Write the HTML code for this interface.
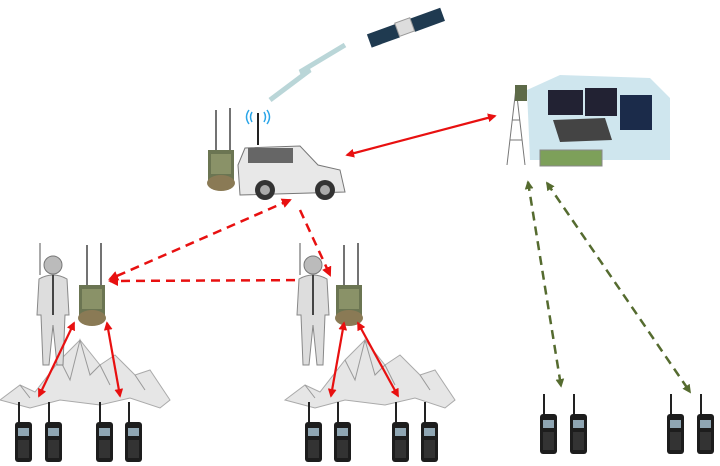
<!DOCTYPE html>
<html><head><style>body{margin:0;background:#fff}svg{display:block}</style></head><body>
<svg width="720" height="466" viewBox="0 0 720 466" xmlns="http://www.w3.org/2000/svg">
<defs>
<marker id="r" viewBox="0 0 10 10" refX="8" refY="5" markerWidth="4" markerHeight="4" orient="auto-start-reverse"><path d="M0,0L10,5L0,10z" fill="#e81010"/></marker>
<marker id="g" viewBox="0 0 10 10" refX="8" refY="5" markerWidth="3.5" markerHeight="3.5" orient="auto-start-reverse"><path d="M0,0L10,5L0,10z" fill="#556b2f"/></marker>
<g id="radio"><rect x="3" y="0" width="2" height="22" fill="#222"/><rect x="0" y="20" width="17" height="40" rx="3" fill="#1d1d1d"/><rect x="3" y="26" width="11" height="8" fill="#8fa6b3"/><rect x="3" y="38" width="11" height="18" fill="#333"/></g>
<g id="pack"><rect x="0" y="0" width="26" height="30" fill="#6b7552"/><rect x="3" y="4" width="20" height="20" fill="#8a9268"/><ellipse cx="13" cy="33" rx="14" ry="8" fill="#8a7a55"/><line x1="8" y1="0" x2="8" y2="-40" stroke="#444" stroke-width="1.5"/><line x1="22" y1="0" x2="22" y2="-42" stroke="#444" stroke-width="1.5"/></g>
<g id="sold"><circle cx="18" cy="10" r="9" fill="#bbb" stroke="#777"/><path d="M4,24 Q18,16 32,24 L34,60 L30,60 L28,110 L22,110 L18,70 L14,110 L8,110 L6,60 L2,60z" fill="#ddd" stroke="#888"/><line x1="18" y1="20" x2="18" y2="60" stroke="#444" stroke-width="2"/><line x1="5" y1="20" x2="5" y2="-12" stroke="#555"/></g>
<g id="mtn"><path d="M0,70 L20,55 L35,62 L60,30 L80,10 L100,35 L115,25 L135,45 L150,40 L170,70 L160,78 L130,68 L100,75 L60,70 L30,78z" fill="#e6e6e6" stroke="#aaa"/><path d="M60,30 L70,50 L80,10 L90,45 L100,35 L110,55 M20,55 L30,68 M135,45 L145,60" stroke="#999" fill="none"/></g>
</defs>
<!-- satellite -->
<g transform="translate(405,28) rotate(-20)"><rect x="-38" y="-7" width="30" height="14" fill="#1f3a50"/><rect x="8" y="-7" width="32" height="14" fill="#1f3a50"/><rect x="-8" y="-8" width="16" height="14" fill="#ddd" stroke="#999"/></g>
<path d="M270,100 L310,70 L300,72 L345,45" stroke="#9cc4c8" stroke-width="5" fill="none" opacity=".7"/>
<!-- vehicle -->
<use href="#pack" x="208" y="150"/>
<path d="M238,165 L245,148 L300,146 L318,165 L340,170 L345,192 L240,195z" fill="#e8e8e8" stroke="#777"/>
<rect x="248" y="148" width="45" height="15" fill="#666"/>
<circle cx="265" cy="190" r="10" fill="#333"/><circle cx="325" cy="190" r="10" fill="#333"/>
<circle cx="265" cy="190" r="5" fill="#aaa"/><circle cx="325" cy="190" r="5" fill="#aaa"/>
<line x1="258" y1="113" x2="258" y2="145" stroke="#222" stroke-width="2"/>
<path d="M252,112 q-3,5 0,10 M264,112 q3,5 0,10 M249,110 q-5,7 0,14 M267,110 q5,7 0,14" stroke="#2aa5e8" stroke-width="1.5" fill="none"/>
<!-- command center -->
<path d="M527,90 L560,75 L650,78 L670,98 L670,160 L530,160z" fill="#c3e0ea" opacity=".8"/>
<rect x="548" y="90" width="35" height="25" fill="#223" /><rect x="585" y="88" width="32" height="28" fill="#223"/><rect x="620" y="95" width="32" height="35" fill="#1b2b4a"/>
<path d="M553,120 L605,118 L612,140 L560,142z" fill="#444"/>
<rect x="540" y="150" width="62" height="16" fill="#7da05a" stroke="#888"/>
<path d="M507,165 L516,88 L525,165 M510,140 L522,140 M512,120 L520,120" stroke="#777" fill="none"/>
<rect x="515" y="85" width="12" height="16" fill="#5d6a48"/>
<!-- arrows -->
<line x1="347" y1="155" x2="495" y2="116" stroke="#e81010" stroke-width="2.2" marker-start="url(#r)" marker-end="url(#r)"/>
<g stroke="#e81010" stroke-width="2.5" stroke-dasharray="9,6" fill="none">
<line x1="290" y1="200" x2="110" y2="279" marker-start="url(#r)" marker-end="url(#r)"/>
<line x1="300" y1="210" x2="330" y2="275" marker-end="url(#r)"/>
<line x1="325" y1="280" x2="110" y2="281" marker-end="url(#r)"/>
</g>
<g stroke="#556b2f" stroke-width="2.5" stroke-dasharray="9,6" fill="none">
<line x1="528" y1="182" x2="561" y2="386" marker-start="url(#g)" marker-end="url(#g)"/>
<line x1="547" y1="183" x2="690" y2="392" marker-start="url(#g)" marker-end="url(#g)"/>
</g>
<!-- mountains/soldiers -->
<use href="#mtn" x="0" y="330"/><use href="#mtn" x="285" y="330"/>
<use href="#sold" x="35" y="255"/><use href="#sold" x="295" y="255"/>
<use href="#pack" x="79" y="285"/><use href="#pack" x="336" y="285"/>
<g stroke="#e81010" stroke-width="2.2" fill="none">
<line x1="74" y1="323" x2="39" y2="396" marker-start="url(#r)" marker-end="url(#r)"/>
<line x1="107" y1="323" x2="120" y2="396" marker-start="url(#r)" marker-end="url(#r)"/>
<line x1="344" y1="323" x2="331" y2="396" marker-start="url(#r)" marker-end="url(#r)"/>
<line x1="358" y1="323" x2="398" y2="396" marker-start="url(#r)" marker-end="url(#r)"/>
</g>
<use href="#radio" x="15" y="402"/><use href="#radio" x="45" y="402"/><use href="#radio" x="96" y="402"/><use href="#radio" x="125" y="402"/>
<use href="#radio" x="305" y="402"/><use href="#radio" x="334" y="402"/><use href="#radio" x="392" y="402"/><use href="#radio" x="421" y="402"/>
<use href="#radio" x="540" y="394"/><use href="#radio" x="570" y="394"/><use href="#radio" x="667" y="394"/><use href="#radio" x="697" y="394"/>
</svg>
</body></html>
